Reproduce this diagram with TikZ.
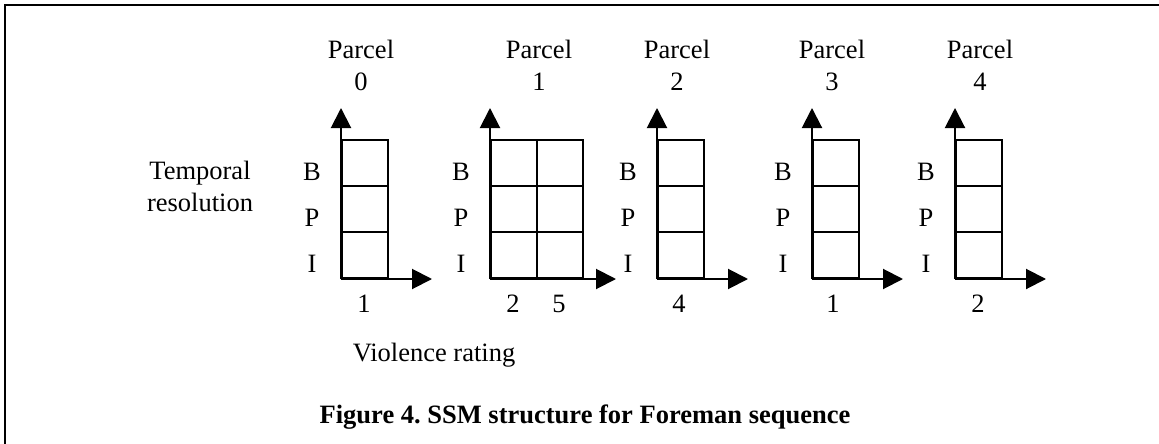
\documentclass[tikz,border=0pt]{standalone}
\usepackage{fontspec}
\setmainfont{Liberation Serif}
\usetikzlibrary{arrows.meta}
\frenchspacing

\tikzset{
  cell/.style={draw, line width=2pt, minimum width=46pt, minimum height=46pt,
               inner sep=0pt, anchor=south west},
  axis/.style={line width=2pt, -{Triangle[length=20pt,width=20pt]}},
  txt/.style={font=\fontsize{26.5}{32}\selectfont, inner sep=0pt},
  frame/.style={line width=2pt},
}

\begin{document}
\begin{tikzpicture}[x=1pt, y=-1pt]
\useasboundingbox (0,0) rectangle (1159,444);

% outer frame
\coordinate (fbl) at (5,444);
\coordinate (ftl) at (5,5);
\coordinate (ftr) at (1159,5);
\draw[frame] (fbl) -- (ftl) -- (ftr);

% one chart per parcel: parcel / axis x / columns / arrow overhang
\foreach \p/\X/\n/\e in {0/341/1/45, 1/490/2/34, 2/657/1/45, 3/812/1/45, 4/955/1/45} {
  \foreach \c in {1,...,\n} {
    \foreach \r in {1,2,3} {
      \node[cell] (c\p-\r-\c) at ({\X+46*(\c-1)}, {279-46*(\r-1)}) {};
    }
  }
  \coordinate (o\p) at (\X,279);
  \coordinate (ty\p) at (\X,108);
  \coordinate (tx\p) at ({\X+46*\n+\e},279);
  \draw[axis] (o\p) -- (ty\p);
  \draw[axis] (o\p) -- (tx\p);
  \node[txt, anchor=base] (lb\p) at ({\X-29},180) {B};
  \node[txt, anchor=base] (lp\p) at ({\X-29},226) {P};
  \node[txt, anchor=base] (li\p) at ({\X-29},272) {I};
}

% parcel titles
\node[txt, align=center] (par0) at (361,65) {Parcel\\0};
\node[txt, align=center] (par1) at (539,65) {Parcel\\1};
\node[txt, align=center] (par2) at (677,65) {Parcel\\2};
\node[txt, align=center] (par3) at (832,65) {Parcel\\3};
\node[txt, align=center] (par4) at (980,65) {Parcel\\4};

% violence ratings under the columns
\node[txt, anchor=base] (v0)  at (364,312) {1};
\node[txt, anchor=base] (v1a) at (513,312) {2};
\node[txt, anchor=base] (v1b) at (559,312) {5};
\node[txt, anchor=base] (v2)  at (679,312) {4};
\node[txt, anchor=base] (v3)  at (833,312) {1};
\node[txt, anchor=base] (v4)  at (978,312) {2};

% axis captions
\node[txt, align=center] (tres) at (200,186) {Temporal\\resolution};
\node[txt, anchor=base] (vrat) at (434,361) {Violence rating};

% figure caption
\node[txt, anchor=base, font=\fontsize{26.5}{32}\selectfont\bfseries] (cap) at (585,423)
  {Figure 4. SSM structure for Foreman sequence};
\end{tikzpicture}
\end{document}
